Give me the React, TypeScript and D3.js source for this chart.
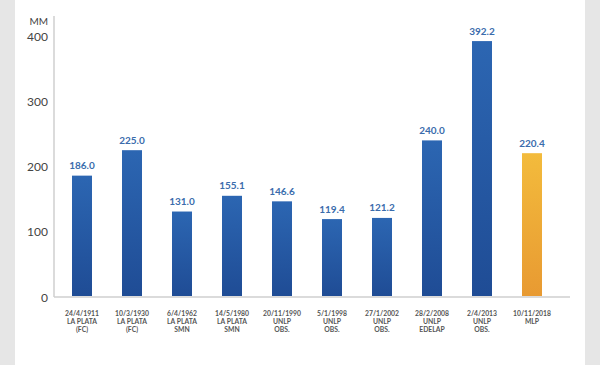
import React from "react";
import * as d3 from "d3";

const dates = ["24/4/1911", "10/3/1930", "6/4/1962", "14/5/1980", "20/11/1990", "5/1/1998", "27/1/2002", "28/2/2008", "2/4/2013", "10/11/2018"];
const stations = ["LA PLATA", "LA PLATA", "LA PLATA", "LA PLATA", "UNLP", "UNLP", "UNLP", "UNLP", "UNLP", "MLP"];
const sources = ["(FC)", "(FC)", "SMN", "SMN", "OBS.", "OBS.", "OBS.", "EDELAP", "OBS.", ""];
const values = [186.0, 225.0, 131.0, 155.1, 146.6, 119.4, 121.2, 240.0, 392.2, 220.4];
const highlight = [false, false, false, false, false, false, false, false, false, true];
const yTicks = [0, 100, 200, 300, 400];

const W = 600;
const H = 365;

export default function App() {
  const x = d3.scaleBand<number>().domain(d3.range(values.length)).range([57, 557]).paddingInner(0.6).paddingOuter(0.3);
  const y = d3.scaleLinear().domain([0, 400]).range([297, 36]);
  const font = "Lato, 'Open Sans', sans-serif";
  return (
    <svg width={W} height={H} style={{ position: "fixed", left: 0, top: 0 }} fontFamily={font}>
      <defs>
        <linearGradient id="gBlue" x1="0" y1="0" x2="0" y2="1">
          <stop offset="0%" stopColor="#2c66b2" />
          <stop offset="100%" stopColor="#1f4c95" />
        </linearGradient>
        <linearGradient id="gYellow" x1="0" y1="0" x2="0" y2="1">
          <stop offset="0%" stopColor="#f3bb3c" />
          <stop offset="100%" stopColor="#e89a32" />
        </linearGradient>
      </defs>
      <rect x={0} y={0} width={W} height={H} fill="#e6e6e6" />
      <rect x={15} y={0} width={570} height={H} fill="#ffffff" />
      {/* axes */}
      <line x1={54} x2={54} y1={16} y2={y(0)} stroke="#cfcfcf" strokeWidth={1.5} />
      <line x1={54} x2={570} y1={y(0)} y2={y(0)} stroke="#cfcfcf" strokeWidth={1.5} />
      <text x={48} y={20.5} textAnchor="end" dominantBaseline="central" fontSize={10} fill="#444">MM</text>
      {yTicks.map((t) => (
        <text key={t} x={48} y={y(t)} textAnchor="end" dominantBaseline="central" fontSize={12} fill="#444">{t}</text>
      ))}
      {values.map((v, i) => {
        const bx = x(i)!;
        const cx = bx + x.bandwidth() / 2;
        return (
          <g key={i}>
            <rect x={bx} y={y(v)} width={x.bandwidth()} height={y(0) - y(v) - 1} fill={highlight[i] ? "url(#gYellow)" : "url(#gBlue)"} />
            <text x={cx} y={y(v) - 6.5} textAnchor="middle" fontSize={10} fontWeight={700} fill="#3a6cac">{v.toFixed(1)}</text>
            <text x={cx} y={315.5} textAnchor="middle" fontSize={6.8} fontWeight={700} fill="#555">{dates[i]}</text>
            <text x={cx} y={323.5} textAnchor="middle" fontSize={6.8} fontWeight={700} fill="#555">{stations[i]}</text>
            {sources[i] && (
              <text x={cx} y={331.5} textAnchor="middle" fontSize={6.8} fontWeight={700} fill="#555">{sources[i]}</text>
            )}
          </g>
        );
      })}
    </svg>
  );
}
